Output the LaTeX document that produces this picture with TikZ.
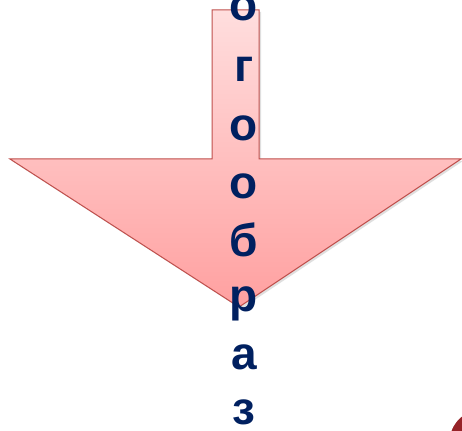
\documentclass[tikz,border=0pt]{standalone}
\usepackage{fontspec}
\setmainfont{Liberation Sans}
\usetikzlibrary{shadows}
\definecolor{arrowline}{RGB}{192,80,77}
\definecolor{arrowtop}{RGB}{255,222,222}
\definecolor{arrowbot}{RGB}{255,160,160}
\definecolor{navy}{RGB}{0,32,96}
\definecolor{darkred}{RGB}{150,35,40}
\tikzset{
  letter/.style={anchor=base, text=navy, font=\fontsize{46}{46}\selectfont\bfseries, inner sep=0pt},
  bigarrow/.style={draw=arrowline, line width=1pt, top color=arrowtop, bottom color=arrowbot,
    drop shadow={shadow xshift=2pt, shadow yshift=-2pt, opacity=0.25}},
  blob/.style={circle, fill=darkred, draw=white, line width=5pt, minimum size=70pt,
    drop shadow={opacity=0.3}}
}
\begin{document}
\begin{tikzpicture}[x=1pt,y=-1pt]
\useasboundingbox (0,0) rectangle (462,430);
\fill[white] (0,0) rectangle (462,430);
\path[bigarrow] (212,10) -- (259,10) -- (259,159) -- (461,159) -- (239,307) -- (10,159) -- (212,159) -- cycle;
\node[blob] (c) at (482,442) {};
\foreach \ch/\yy [count=\i] in {о/8, г/69, о/128, о/186, б/244, р/299, а/357, з/412}{
  \node[letter] (l\i) at (244,\yy+12.5) {\ch};
}
\end{tikzpicture}
\end{document}
